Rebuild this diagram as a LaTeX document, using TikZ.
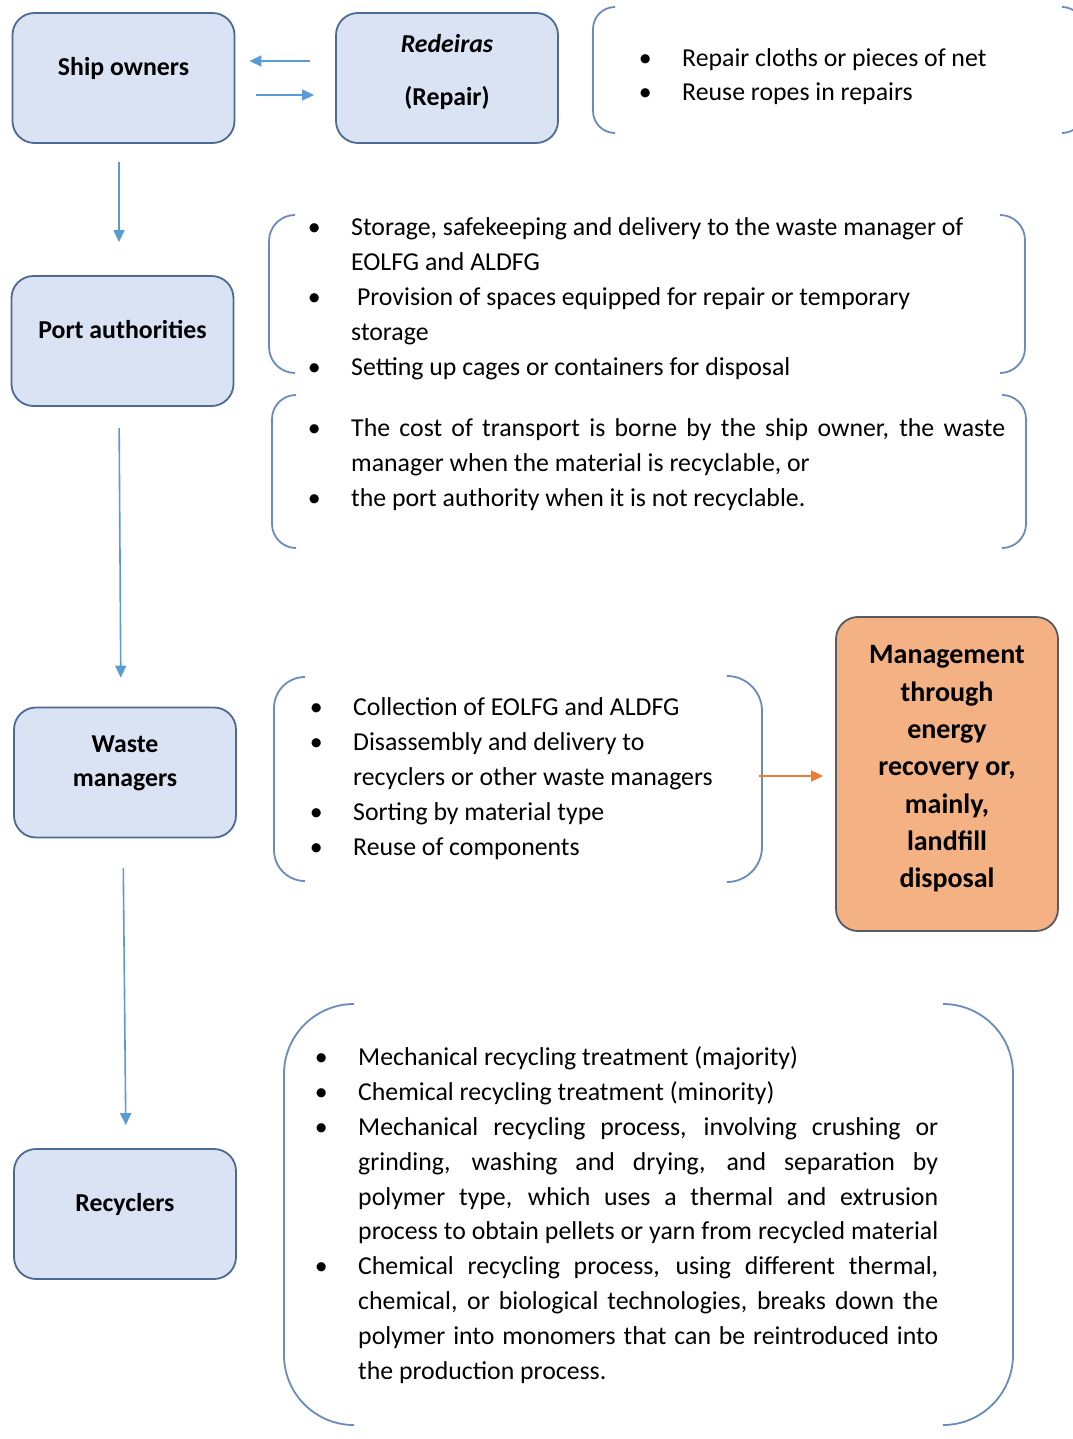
\documentclass[tikz,border=0pt]{standalone}
\usepackage{fontspec}
\setmainfont{Carlito}
\usetikzlibrary{arrows.meta}

\definecolor{boxfill}{HTML}{DAE3F3}
\definecolor{boxline}{HTML}{4C6A92}
\definecolor{flowblue}{HTML}{5B9BD5}
\definecolor{brackblue}{HTML}{6A8BBE}
\definecolor{outfill}{HTML}{F4B183}
\definecolor{outline}{HTML}{555B66}
\definecolor{flowred}{HTML}{ED7D31}

\newcommand\listfont{\fontsize{25.8}{34.8}\selectfont}
\newcommand\boxfont{\fontsize{25.8}{34}\selectfont\bfseries}
\newcommand\outfont{\fontsize{28}{37.3}\selectfont\bfseries}
\newcommand\bitem{\makebox[0pt]{\textbullet}\hspace*{37pt}}
\newcommand\bcont{\hspace*{37pt}}
\newcommand\fillline[2]{\makebox[#1][s]{#2}}
\newcommand\boxtext[2][3.5pt]{\raisebox{#1}[0pt][0pt]{\begin{tabular}{@{}c@{}}#2\end{tabular}}}

\tikzset{
  actor/.style={draw=boxline, fill=boxfill, line width=1.8pt, rounded corners=22pt,
    minimum width=222pt, minimum height=130pt, inner sep=0pt, font=\boxfont},
  outcome/.style={actor, draw=outline, fill=outfill, minimum height=314pt, font=\outfont},
  flow/.style={draw=flowblue, line width=1.6pt, -{Triangle[length=12pt,width=11pt]}},
  flowout/.style={flow, draw=flowred},
  list/.style={anchor=base west, align=left, inner sep=0pt, font=\listfont},
  brack/.style={draw=brackblue, line width=1.8pt}
}

\begin{document}
\begin{tikzpicture}[x=1pt, y=-1pt]
  \path[use as bounding box, fill=white] (0,0) rectangle (1072,1439);

  % actors
  \node[actor] (ship) at (123.5,78) {\boxtext{Ship owners}};
  \node[actor] (red) at (447,78) {\boxtext[-0.5pt]{\textit{Redeiras}\\[19pt] (Repair)}};
  \node[actor] (port) at (122.5,341) {\boxtext{Port authorities}};
  \node[actor] (waste) at (125,772.5) {\boxtext{Waste\\ managers}};
  \node[actor] (recyc) at (125,1214) {\boxtext{Recyclers}};
  \node[outcome] (landfill) at (947,774) {\boxtext[-0.5pt]{Management\\ through\\ energy\\ recovery or,\\ mainly,\\ landfill\\ disposal}};

  % task lists (anchored at the baseline of their last line)
  \node[list] (repairs) at (645,101) {\bitem Repair cloths or pieces of net\\
    \bitem Reuse ropes in repairs};
  \node[list] (porttasks) at (314,375) {\bitem Storage, safekeeping and delivery to the waste manager of\\
    \bcont EOLFG and ALDFG\\
    \bitem\ Provision of spaces equipped for repair or temporary\\
    \bcont storage\\
    \bitem Setting up cages or containers for disposal};
  \node[list] (costs) at (314,506) {\bitem\fillline{654pt}{The cost of transport is borne by the ship owner, the waste}\\
    \bcont manager when the material is recyclable, or\\
    \bitem the port authority when it is not recyclable.};
  \node[list] (wastetasks) at (316,855) {\bitem Collection of EOLFG and ALDFG\\
    \bitem Disassembly and delivery to\\
    \bcont recyclers or other waste managers\\
    \bitem Sorting by material type\\
    \bitem Reuse of components};
  \node[list] (recyctasks) at (321,1379) {\bitem Mechanical recycling treatment (majority)\\
    \bitem Chemical recycling treatment (minority)\\
    \bitem\fillline{580pt}{Mechanical recycling process, involving crushing or}\\
    \bcont\fillline{580pt}{grinding, washing and drying, and separation by}\\
    \bcont\fillline{580pt}{polymer type, which uses a thermal and extrusion}\\
    \bcont\fillline{580pt}{process to obtain pellets or yarn from recycled material}\\
    \bitem\fillline{580pt}{Chemical recycling process, using different thermal,}\\
    \bcont\fillline{580pt}{chemical, or biological technologies, breaks down the}\\
    \bcont\fillline{580pt}{polymer into monomers that can be reintroduced into}\\
    \bcont the production process.};

  % brackets round the lists
  \foreach \x/\ya/\yb/\r in {593/7/133/22, 269/215/373/26, 272/395/548/24, 274/677/881/31, 284/1004/1425/70}
    \draw[brack, rounded corners=\r pt] (\x+\r,\ya) -- (\x,\ya) -- (\x,\yb) -- (\x+\r,\yb);
  \foreach \x/\ya/\yb/\r in {1084/7/133/22, 1025/215/373/25, 1026/395/548/24, 762/676/882/35, 1013/1004/1425/70}
    \draw[brack, rounded corners=\r pt] (\x-\r,\ya) -- (\x,\ya) -- (\x,\yb) -- (\x-\r,\yb);

  % flows
  \draw[flow, shorten <=25pt, shorten >=14pt] ([yshift=17pt]red.west) -- ([yshift=17pt]ship.east);
  \draw[flow, shorten <=21pt, shorten >=21pt] ([yshift=-17pt]ship.east) -- ([yshift=-17pt]red.west);
  \draw[flow, shorten <=18pt, shorten >=33pt] ([xshift=-4.5pt]ship.south) -- ([xshift=-3.5pt]port.north);
  \draw[flow, shorten <=21pt, shorten >=29pt] ([xshift=-3.5pt]port.south) -- ([xshift=-4pt]waste.north);
  \draw[flow, shorten <=30pt, shorten >=23pt] ([xshift=-2pt]waste.south) -- ([xshift=1pt]recyc.north);
  \coordinate (wasteout) at (759,776);
  \draw[flowout, shorten >=12pt] (wasteout) -- (landfill.west |- wasteout);
\end{tikzpicture}
\end{document}
